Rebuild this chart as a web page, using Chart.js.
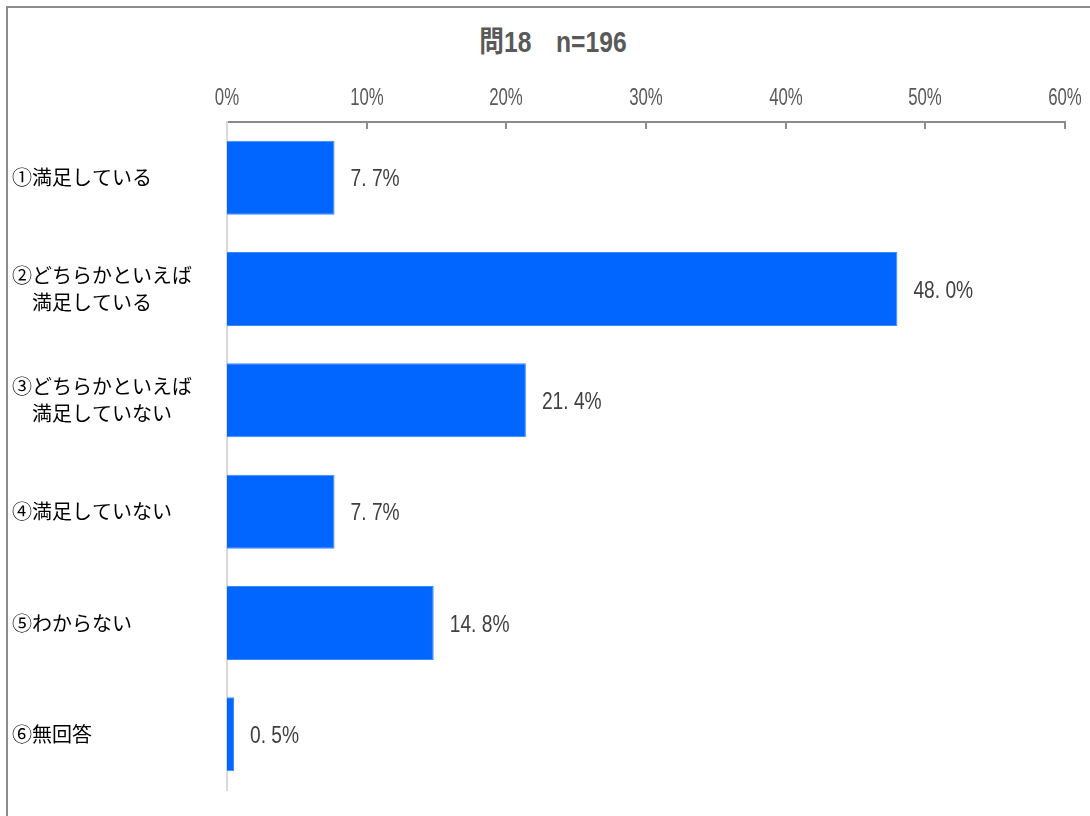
<!DOCTYPE html>
<html lang="ja">
<head>
<meta charset="utf-8">
<title>問18</title>
<script src="https://cdn.jsdelivr.net/npm/chart.js@4/dist/chart.umd.min.js"></script>
<style>
  html, body { margin: 0; padding: 0; background: #fff; overflow: hidden; }
  #wrap { position: relative; width: 1090px; height: 816px; }
  #frame {
    position: absolute; left: 6px; top: 6px; width: 2000px; height: 2000px;
    border-left: 2px solid #8c8c8c; border-top: 2px solid #8c8c8c;
  }
  #title {
    position: absolute; left: 0; top: 27px; width: 1106px; text-align: center;
    font: bold 29px "Liberation Sans", "Noto Sans CJK JP", sans-serif;
    color: #595959; line-height: 31px; white-space: pre;
    transform: scaleX(0.85); transform-origin: 553px 0;
  }
  canvas { position: absolute; left: 0; top: 0; }
</style>
</head>
<body>
<div id="wrap">
  <div id="frame"></div>
  <div id="title">問18　n=196</div>
  <canvas id="chart" width="1090" height="816"></canvas>
</div>
<script>
// 回答の選択肢と割合(%)
const CATEGORIES = [
  ["①満足している"],
  ["②どちらかといえば", "　満足している"],
  ["③どちらかといえば", "　満足していない"],
  ["④満足していない"],
  ["⑤わからない"],
  ["⑥無回答"],
];
const VALUES = [7.7, 48.0, 21.4, 7.7, 14.8, 0.5];
const X_TICKS = { min: 0, max: 60, step: 10 };

const BAR = "#0066ff";
const AXIS = "#8c8c8c";
const SANS = "'Liberation Sans', Arial, sans-serif";

// 値ラベル: 「7. 7%」の表記
const fmt = v => v.toFixed(1).replace(".", ". ") + "%";

// 横に詰めた(narrow)文字を描く
function narrowText(ctx, text, x, y, align, sx) {
  ctx.save();
  ctx.translate(x, y);
  ctx.scale(sx, 1);
  ctx.textAlign = align;
  ctx.fillText(text, 0, 0);
  ctx.restore();
}

// 上側の目盛: ラベルは詰め字、目盛線はプロット内側へ
const topAxis = {
  id: "topAxis",
  afterDraw(chart) {
    const { ctx, chartArea, scales } = chart;
    const sx = scales.x;
    ctx.save();
    ctx.strokeStyle = AXIS;
    ctx.lineWidth = 2;
    ctx.fillStyle = "#595959";
    ctx.font = "24px " + SANS;
    ctx.textBaseline = "alphabetic";
    sx.ticks.forEach(t => {
      const x = Math.round(sx.getPixelForValue(t.value));
      narrowText(ctx, t.value + "%", x, chartArea.top - 17, "center", 0.7);
      if (t.value === 0) return;
      ctx.beginPath();
      ctx.moveTo(x, chartArea.top);
      ctx.lineTo(x, chartArea.top + 7);
      ctx.stroke();
    });
    ctx.restore();
  },
};

const valueLabels = {
  id: "valueLabels",
  afterDatasetsDraw(chart) {
    const { ctx } = chart;
    const meta = chart.getDatasetMeta(0);
    ctx.save();
    ctx.fillStyle = "#404040";
    ctx.font = "24px " + SANS;
    ctx.textBaseline = "middle";
    meta.data.forEach((bar, i) => {
      narrowText(ctx, fmt(VALUES[i]), bar.x + 16, bar.y + 2, "left", 0.8);
    });
    ctx.restore();
  },
};

new Chart(document.getElementById("chart"), {
  type: "bar",
  data: {
    labels: CATEGORIES,
    datasets: [{
      data: VALUES,
      backgroundColor: BAR,
      borderColor: "#3d88ff",
      borderWidth: 1,
      borderSkipped: "left",
      categoryPercentage: 1,
      barPercentage: 0.665,
    }],
  },
  options: {
    indexAxis: "y",
    responsive: false,
    animation: false,
    layout: { padding: { left: 12, right: 25, top: 70, bottom: 26 } },
    plugins: { legend: { display: false }, tooltip: { enabled: false } },
    scales: {
      x: {
        position: "top",
        min: X_TICKS.min,
        max: X_TICKS.max,
        grid: { display: false, drawTicks: false },
        border: { display: true, color: AXIS, width: 2 },
        ticks: { stepSize: X_TICKS.step, display: false },
        afterFit: s => { s.height = 52; },
      },
      y: {
        grid: { display: false, drawTicks: false },
        border: { display: true, color: "#d9d9d9", width: 2 },
        ticks: {
          crossAlign: "far",
          padding: 0,
          color: "#000",
          font: { family: "'Noto Sans CJK JP', sans-serif", size: 20, lineHeight: 1.35 },
        },
        afterFit: s => { s.width = 215; },
      },
    },
  },
  plugins: [topAxis, valueLabels],
});
</script>
</body>
</html>
